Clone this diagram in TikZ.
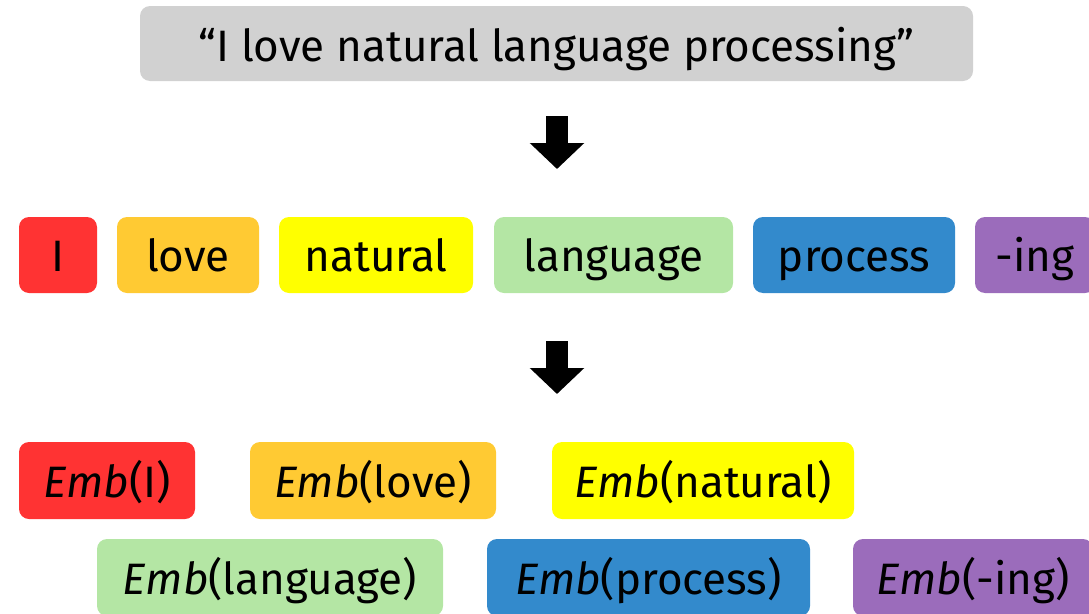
\documentclass[tikz,border=0pt]{standalone}
\usepackage{fontspec}
\setmainfont{Fira Sans}
\usepackage{tikz}
\usetikzlibrary{arrows.meta}

\definecolor{sentgray}{HTML}{D1D1D1}
\definecolor{tokred}{HTML}{FF3333}
\definecolor{tokorange}{HTML}{FFCA33}
\definecolor{tokyellow}{HTML}{FFFF00}
\definecolor{tokgreen}{HTML}{B4E6A4}
\definecolor{tokblue}{HTML}{338ACC}
\definecolor{tokpurple}{HTML}{9B6CBB}

\newcommand{\emb}[1]{\textit{Emb}(#1)}

\begin{document}
\begin{tikzpicture}[x=1pt, y=-1pt, every node/.style = {shape=rectangle, rounded corners=10pt, inner sep=0pt, align=center, text height=45pt, text depth=12pt, font=\fontsize{44}{50}\selectfont},
    tokbox/.style = {minimum height=76pt},
    embbox/.style = {minimum height=77pt},
    fatarrow/.style = {line width=22pt, -{Triangle[width=53pt, length=26pt]}}]
    \useasboundingbox (0,0) rectangle (1089,613);
    \clip (0,0) rectangle (1089,613);
    % sentence
    \node[fill=sentgray, minimum width=833pt, minimum height=75pt, text height=48pt] (sent) at (556.5,43.5) {“I love natural language processing”};
    % tokens
    \node[tokbox, fill=tokred, minimum width=78pt] (tokI) at (58,255) {I};
    \node[tokbox, fill=tokorange, minimum width=142pt] (tokLove) at (188,255) {love};
    \node[tokbox, fill=tokyellow, minimum width=194pt] (tokNatural) at (376,255) {natural};
    \node[tokbox, fill=tokgreen, minimum width=239pt] (tokLanguage) at (613.5,255) {language};
    \node[tokbox, fill=tokblue, minimum width=202pt] (tokProcess) at (854,255) {process};
    \node[tokbox, fill=tokpurple, minimum width=120pt] (tokIng) at (1035,255) {-ing};
    % embeddings
    \node[embbox, fill=tokred, minimum width=176pt] (embI) at (107,480.5) {\emb{I}};
    \node[embbox, fill=tokorange, minimum width=246pt] (embLove) at (373,480.5) {\emb{love}};
    \node[embbox, fill=tokyellow, minimum width=302pt] (embNatural) at (703,480.5) {\emb{natural}};
    \node[embbox, fill=tokgreen, minimum width=346pt] (embLanguage) at (270,577.5) {\emb{language}};
    \node[embbox, fill=tokblue, minimum width=323pt] (embProcess) at (648.5,577.5) {\emb{process}};
    \node[embbox, fill=tokpurple, minimum width=240pt] (embIng) at (973,577.5) {\emb{-ing}};
    % arrows
    \coordinate (arrA) at (557,116);
    \coordinate (arrAend) at (557,169);
    \coordinate (arrB) at (557,341);
    \coordinate (arrBend) at (557,394);
    \draw[fatarrow] (arrA) -- (arrAend);
    \draw[fatarrow] (arrB) -- (arrBend);
\end{tikzpicture}
\end{document}
